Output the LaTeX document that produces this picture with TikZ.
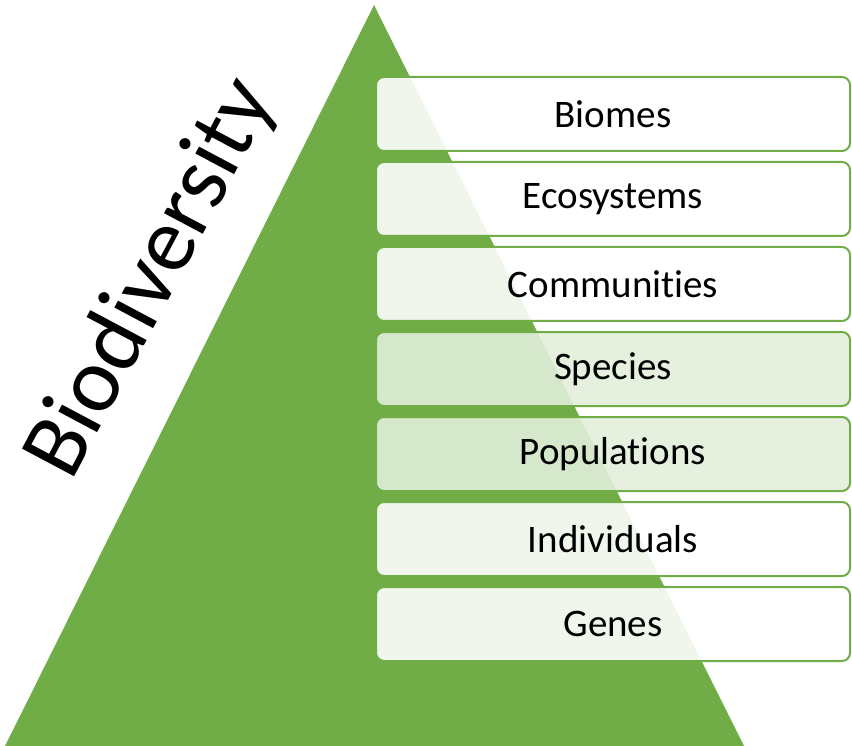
\documentclass[tikz,border=0pt]{standalone}
\usepackage{fontspec}
\setmainfont[Ligatures=NoCommon]{Carlito}
\usepackage{tikz}
\definecolor{leafgreen}{HTML}{70AD47}
\definecolor{palegreen}{HTML}{E2EFDA}
\tikzset{
  level/.style={draw=leafgreen, line width=2pt, rounded corners=8pt, fill=white, fill opacity=0.9,
    text opacity=1, minimum width=474pt, minimum height=74pt, inner sep=0pt,
    font=\fontsize{39}{44}\selectfont},
  midlevel/.style={level, fill=palegreen}
}

\begin{document}
\begin{tikzpicture}[x=1pt,y=-1pt]
\useasboundingbox (0,0) rectangle (852,746);
% pyramid
\fill [leafgreen] (5,746) -- (374,5) -- (744,746) -- cycle;
\node [rotate=62, font=\fontsize{92}{96}\selectfont] (title) at (152,279) {Biodiversity};
% levels
\node [level] (biomes) at (613,114) {Biomes};
\node [level] (ecosystems) at (613,199) {Ecosystems};
\node [level] (communities) at (613,284) {Communities};
\node [midlevel] (species) at (613,369) {Species};
\node [midlevel] (populations) at (613,454) {Populations};
\node [level] (individuals) at (613,539) {Individuals};
\node [level] (genes) at (613,624) {Genes};
\end{tikzpicture}
\end{document}
